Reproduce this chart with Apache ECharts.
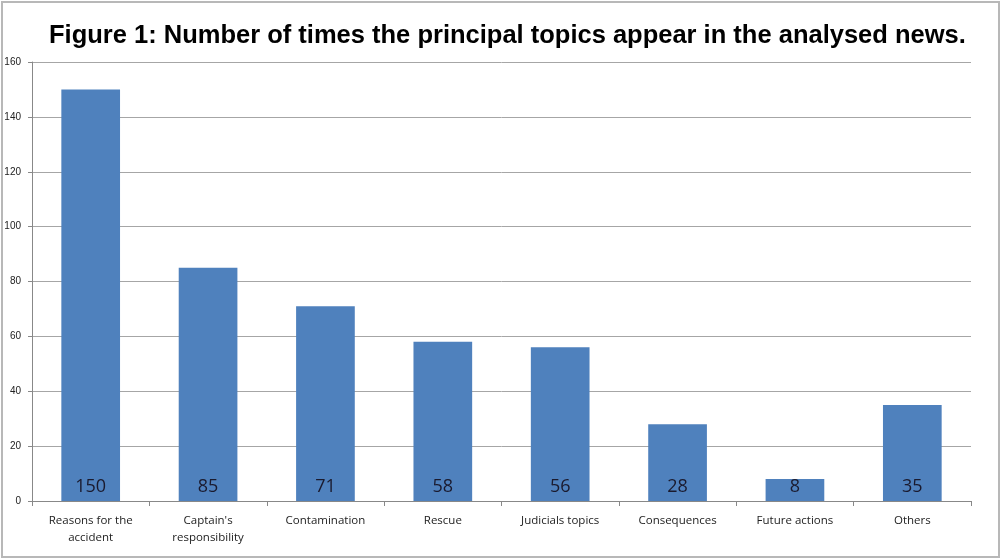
<!DOCTYPE html>
<html>
<head>
<meta charset="utf-8">
<script src="https://cdn.jsdelivr.net/npm/echarts@6/dist/echarts.min.js"></script>
<style>
  html, body { margin: 0; padding: 0; background: #fff; }
  #chart { width: 1003px; height: 560px; }
</style>
</head>
<body>
<div id="chart"></div>
<script>
// Topics and how often each appears in the news items
const topics = [
  'Reasons for the\naccident',
  "Captain's\nresponsibility",
  'Contamination',
  'Rescue',
  'Judicials topics',
  'Consequences',
  'Future actions',
  'Others'
];
const counts = [150, 85, 71, 58, 56, 28, 8, 35];
const yTicks = [0, 20, 40, 60, 80, 100, 120, 140, 160];

const chart = echarts.init(document.getElementById('chart'), null, { renderer: 'canvas' });

chart.setOption({
  backgroundColor: '#ffffff',
  animation: false,
  title: {
    text: 'Figure 1: Number of times the principal topics appear in the analysed news.',
    left: 49,
    top: 23,
    padding: 0,
    textStyle: {
      fontFamily: 'Liberation Sans, Arial, sans-serif',
      fontWeight: 'bold',
      fontSize: 25.5,
      color: '#000'
    }
  },
  graphic: [{
    type: 'rect',
    shape: { x: 2, y: 2, width: 997, height: 555 },
    style: { fill: 'none', stroke: '#b8b8b8', lineWidth: 2 },
    silent: true
  }],
  grid: { left: 32, right: 32, top: 62, bottom: 59, containLabel: false },
  xAxis: {
    type: 'category',
    data: topics,
    axisLine: { lineStyle: { color: '#888', width: 1 } },
    axisTick: { show: true, length: 5, alignWithLabel: false, lineStyle: { color: '#888' } },
    axisLabel: {
      color: '#222',
      fontFamily: 'Open Sans, Liberation Sans, sans-serif',
      fontSize: 11.5,
      lineHeight: 17,
      margin: 11,
      interval: 0
    }
  },
  yAxis: {
    type: 'value',
    min: yTicks[0],
    max: yTicks[yTicks.length - 1],
    interval: yTicks[1] - yTicks[0],
    axisLine: { show: true, lineStyle: { color: '#888', width: 1 } },
    axisTick: { show: true, length: 4, lineStyle: { color: '#888' } },
    splitLine: { show: true, lineStyle: { color: '#a6a6a6', width: 1 } },
    axisLabel: {
      color: '#222',
      fontFamily: 'Liberation Sans, Arial, sans-serif',
      fontSize: 10,
      margin: 11
    }
  },
  series: [{
    type: 'bar',
    data: counts,
    barWidth: '50%',
    itemStyle: { color: '#4f81bd' },
    label: {
      show: true,
      position: 'insideBottom',
      distance: 5,
      color: '#1a1a2e',
      fontFamily: 'Open Sans, Liberation Sans, sans-serif',
      fontSize: 18
    }
  }]
});
</script>
</body>
</html>
